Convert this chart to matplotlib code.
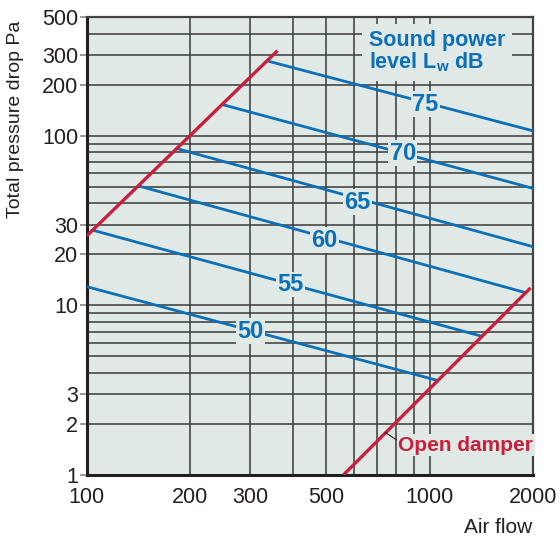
import matplotlib
matplotlib.use('Agg')
import matplotlib.pyplot as plt

# sound power levels (dB) and the end points of each constant-level line
levels = [50, 55, 60, 65, 70, 75]
blue_x0 = [100, 104, 141, 184, 249, 338]
blue_y0 = [12.9, 27.8, 50.8, 83.9, 152.8, 275.7]
blue_x1 = [1065, 1418, 1909, 2000, 2000, 2000]
blue_y1 = [3.59, 6.58, 11.87, 22.2, 49.0, 107.0]
label_x = [301, 393, 493, 614, 834, 969]
label_y = [7.05, 13.3, 24.3, 40.7, 78.8, 153.6]

# red limit lines: minimum flow and open damper
limit_x = [100, 360]
limit_y = [25.7, 318]
damper_x = [560, 1968]
damper_y = [1.0, 12.7]

# axes ticks and grid
xticks = [100, 200, 300, 500, 1000, 2000]
yticks = [1, 2, 3, 10, 20, 30, 100, 200, 300, 500]
xgrid = [200, 300, 400, 500, 600, 700, 800, 900, 1000]
ygrid = [2, 3, 4, 5, 6, 7, 8, 9, 10, 20, 30, 40, 50, 60, 70, 80, 90, 100, 200, 300, 400]

blue = '#0b70b8'
red = '#c8203c'
bg = '#e0e9e5'
plt.rcParams['font.family'] = ['Liberation Sans', 'DejaVu Sans']

fig = plt.figure(figsize=(5.6, 5.41), dpi=100)
ax = fig.add_axes([0.1548, 0.122, 0.797, 0.846])
ax.set_facecolor(bg)
ax.set_xscale('log')
ax.set_yscale('log')
ax.set_xlim(100, 2000)
ax.set_ylim(1, 500)

for gx in xgrid:
    ax.axvline(gx, color='#3a3a3a', lw=1.1, zorder=1)
for gy in ygrid:
    ax.axhline(gy, color='#3a3a3a', lw=1.1, zorder=1)

for i in range(len(levels)):
    ax.plot([blue_x0[i], blue_x1[i]], [blue_y0[i], blue_y1[i]], color=blue, lw=2.0, zorder=3,
            solid_capstyle='butt')
    ax.text(label_x[i], label_y[i], str(levels[i]), color=blue, fontsize=17, fontweight='bold',
            ha='center', va='center', zorder=5,
            bbox=dict(facecolor=bg, edgecolor='none', pad=1.0))

ax.plot(limit_x, limit_y, color=red, lw=2.4, zorder=4, solid_capstyle='butt')
ax.plot(damper_x, damper_y, color=red, lw=2.4, zorder=4, solid_capstyle='butt')

# open damper label with small leader line
ax.plot([741, 804], [1.786, 1.6], color='#222222', lw=0.8, zorder=4)
ax.text(808, 1.5, 'Open damper', color=red, fontsize=15, fontweight='bold',
        ha='left', va='center', zorder=5,
        bbox=dict(facecolor=bg, edgecolor='none', pad=1.0))

ax.text(0.632, 0.972, 'Sound power\nlevel L$\\mathregular{_w}$ dB', transform=ax.transAxes,
        color=blue, fontsize=15.5, fontweight='bold', ha='left', va='top',
        linespacing=0.95, zorder=5,
        bbox=dict(facecolor=bg, edgecolor='none', pad=5))

ax.set_xticks(xticks)
ax.set_xticklabels([str(v) for v in xticks])
ax.set_yticks(yticks)
ax.set_yticklabels([str(v) for v in yticks])
ax.minorticks_off()
ax.tick_params(axis='x', length=0, pad=9, labelsize=15.5, colors='#231f20')
ax.tick_params(axis='y', length=5, width=1.2, color='#888888', pad=1, labelsize=15.5,
               labelcolor='#231f20')

for side in ['left', 'bottom']:
    ax.spines[side].set_linewidth(2.2)
    ax.spines[side].set_color('#231f20')
for side in ['top', 'right']:
    ax.spines[side].set_linewidth(1.6)
    ax.spines[side].set_color('#444444')

fig.text(0.027, 0.78, 'Total pressure drop Pa', rotation=90, ha='center', va='center',
         fontsize=14, color='#231f20')
fig.text(0.951, 0.025, 'Air flow', ha='right', va='center', fontsize=15, color='#231f20')

fig.savefig('out.png', dpi=100)
